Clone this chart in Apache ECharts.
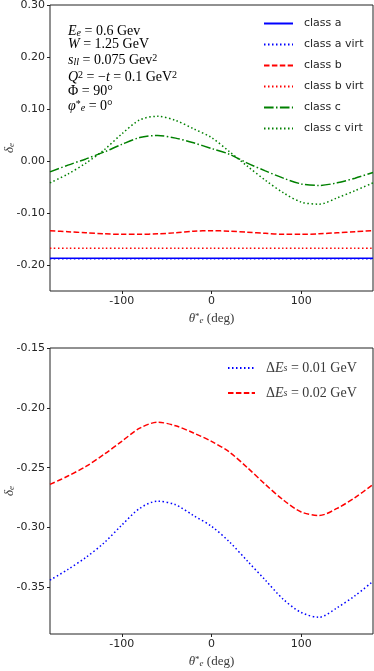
<!DOCTYPE html>
<html>
<head>
<meta charset="utf-8">
<script src="https://cdn.jsdelivr.net/npm/echarts@6/dist/echarts.min.js"></script>
<style>
  html, body { margin: 0; padding: 0; background: #fff; }
  #main { width: 374px; height: 671px; }
</style>
</head>
<body>
<div id="main"></div>
<script>
// theta_e* (deg) sample points, shared by every curve
const theta = [-180, -160, -140, -120, -100, -80, -60, -40, -20, 0, 20, 40, 60, 80, 100, 120, 140, 160, 180];

// top panel
const classA     = [-0.187, -0.187, -0.187, -0.187, -0.187, -0.187, -0.187, -0.187, -0.187, -0.187, -0.187, -0.187, -0.187, -0.187, -0.187, -0.187, -0.187, -0.187, -0.187];
const classAVirt = [-0.188, -0.188, -0.188, -0.188, -0.188, -0.188, -0.188, -0.188, -0.188, -0.188, -0.188, -0.188, -0.188, -0.188, -0.188, -0.188, -0.188, -0.188, -0.188];
const classB     = [-0.134, -0.136, -0.138, -0.140, -0.141, -0.141, -0.140, -0.138, -0.135, -0.134, -0.135, -0.137, -0.139, -0.141, -0.141, -0.140, -0.138, -0.136, -0.134];
const classBVirt = [-0.168, -0.168, -0.168, -0.168, -0.168, -0.168, -0.168, -0.168, -0.168, -0.168, -0.168, -0.168, -0.168, -0.168, -0.168, -0.168, -0.168, -0.168, -0.168];
const classC     = [-0.021, -0.008, 0.004, 0.017, 0.032, 0.045, 0.049, 0.044, 0.035, 0.024, 0.013, -0.004, -0.019, -0.033, -0.044, -0.047, -0.042, -0.033, -0.022];
const classCVirt = [-0.042, -0.025, -0.004, 0.021, 0.052, 0.079, 0.086, 0.078, 0.062, 0.045, 0.018, -0.010, -0.037, -0.061, -0.079, -0.083, -0.071, -0.057, -0.042];

// bottom panel
const dEs001 = [-0.344, -0.335, -0.325, -0.313, -0.298, -0.284, -0.278, -0.281, -0.290, -0.299, -0.312, -0.328, -0.344, -0.360, -0.371, -0.375, -0.367, -0.357, -0.345];
const dEs002 = [-0.264, -0.257, -0.249, -0.239, -0.228, -0.217, -0.212, -0.215, -0.221, -0.228, -0.237, -0.250, -0.264, -0.277, -0.287, -0.290, -0.284, -0.275, -0.264];

// tick labels
const xTicks = [-100, 0, 100];
const yTicksTop = [-0.2, -0.1, 0, 0.1, 0.2, 0.3];
const yTicksBottom = [-0.35, -0.3, -0.25, -0.2, -0.15];

const pairs = arr => theta.map((t, i) => [t, arr[i]]);

const DOT = [1.5, 2.5];
const DASH = [5.5, 2.4];
const DASHDOT = [9.6, 2.4, 1.5, 2.4];

const sans = "DejaVu Sans";
const serif = "Liberation Serif";
const txt = "#262626";

function mathStyles(size, color) {
  const sub = Math.round(size * 0.7);
  return {
    n: { fontFamily: serif, fontSize: size, color: color },
    i: { fontFamily: serif, fontSize: size, fontStyle: "italic", color: color },
    sb: { fontFamily: serif, fontSize: sub, fontStyle: "italic", color: color, verticalAlign: "bottom", lineHeight: sub },
    sp: { fontFamily: serif, fontSize: sub, color: color, verticalAlign: "top", lineHeight: sub }
  };
}
const noteRich = mathStyles(14, "#3a3a3a");
const axisRich = mathStyles(13, "#3a3a3a");

function xAxisCfg(idx) {
  return {
    type: "value", gridIndex: idx, min: -180, max: 180,
    axisLine: { show: false, onZero: false },
    splitLine: { show: false },
    axisTick: { show: true, length: 3, customValues: xTicks, lineStyle: { color: "#222" } },
    axisLabel: { customValues: xTicks, color: txt, fontFamily: sans, fontSize: 11, margin: 5 },
    name: "{i|θ}{sp|*}{sb|e}{n| (deg)}",
    nameLocation: "middle", nameGap: 21,
    nameTextStyle: { rich: axisRich }
  };
}

function yAxisCfg(idx, min, max, ticks) {
  return {
    type: "value", gridIndex: idx, min: min, max: max,
    axisLine: { show: false, onZero: false },
    splitLine: { show: false },
    axisTick: { show: true, length: 3, customValues: ticks, lineStyle: { color: "#222" } },
    axisLabel: {
      customValues: ticks, color: txt, fontFamily: sans, fontSize: 11, margin: 5,
      formatter: v => v.toFixed(2)
    },
    name: "{i|δ}{sb|e}",
    nameLocation: "middle", nameRotate: 90, nameGap: 34, nameMoveOverlap: false,
    nameTextStyle: { rich: axisRich }
  };
}

function line(name, data, color, type, xi) {
  return {
    name: name, type: "line", data: pairs(data),
    xAxisIndex: xi, yAxisIndex: xi,
    symbol: "none", smooth: 0.3,
    lineStyle: { color: color, width: 1.5, type: type },
    itemStyle: { color: color }
  };
}

const chart = echarts.init(document.getElementById("main"));
chart.setOption({
  animation: false,
  grid: [
    { left: 50, top: 5, width: 323, height: 286, show: true, borderColor: "#222", borderWidth: 1, outerBoundsMode: "none" },
    { left: 50, top: 348, width: 323, height: 286, show: true, borderColor: "#222", borderWidth: 1, outerBoundsMode: "none" }
  ],
  xAxis: [xAxisCfg(0), xAxisCfg(1)],
  yAxis: [
    yAxisCfg(0, -0.25, 0.3, yTicksTop),
    yAxisCfg(1, -0.389, -0.15, yTicksBottom)
  ],
  legend: [
    {
      data: ["class a", "class a virt", "class b", "class b virt", "class c", "class c virt"],
      orient: "vertical", left: 263, top: 18, padding: 0,
      itemWidth: 29, itemHeight: 10, itemGap: 10,
      itemStyle: { opacity: 0 },
      textStyle: { fontFamily: sans, fontSize: 11, color: txt, lineHeight: 10, padding: [0, 0, 0, 6] }
    },
    {
      data: ["dE1", "dE2"],
      orient: "vertical", left: 227, top: 361, padding: 0,
      itemWidth: 27, itemHeight: 10, itemGap: 11,
      itemStyle: { opacity: 0 },
      formatter: name => name === "dE1"
        ? "{n|Δ}{i|E}{sb|s}{n| = 0.01 GeV}"
        : "{n|Δ}{i|E}{sb|s}{n| = 0.02 GeV}",
      textStyle: { lineHeight: 10, padding: [0, 0, 0, 6], rich: noteRich }
    }
  ],
  graphic: [
    { type: "text", x: 68, y: 31, style: { text: "{i|E}{sb|e}{n| = 0.6 Gev}", rich: noteRich, verticalAlign: "middle" } },
    { type: "text", x: 68, y: 44, style: { text: "{i|W}{n| = 1.25 GeV}", rich: noteRich, verticalAlign: "middle" } },
    { type: "text", x: 68, y: 60, style: { text: "{i|s}{sb|ll}{n| = 0.075 Gev}{sp|2}", rich: noteRich, verticalAlign: "middle" } },
    { type: "text", x: 68, y: 77, style: { text: "{i|Q}{sp|2}{n| = −}{i|t}{n| = 0.1 GeV}{sp|2}", rich: noteRich, verticalAlign: "middle" } },
    { type: "text", x: 68, y: 91, style: { text: "{n|Φ = 90°}", rich: noteRich, verticalAlign: "middle" } },
    { type: "text", x: 68, y: 106, style: { text: "{i|φ}{sp|*}{sb|e}{n| = 0°}", rich: noteRich, verticalAlign: "middle" } }
  ],
  series: [
    line("class a", classA, "#0000ff", "solid", 0),
    line("class a virt", classAVirt, "#0000ff", DOT, 0),
    line("class b", classB, "#ff0000", DASH, 0),
    line("class b virt", classBVirt, "#ff0000", DOT, 0),
    line("class c", classC, "#008000", DASHDOT, 0),
    line("class c virt", classCVirt, "#008000", DOT, 0),
    line("dE1", dEs001, "#0000ff", DOT, 1),
    line("dE2", dEs002, "#ff0000", DASH, 1)
  ]
});
</script>
</body>
</html>
